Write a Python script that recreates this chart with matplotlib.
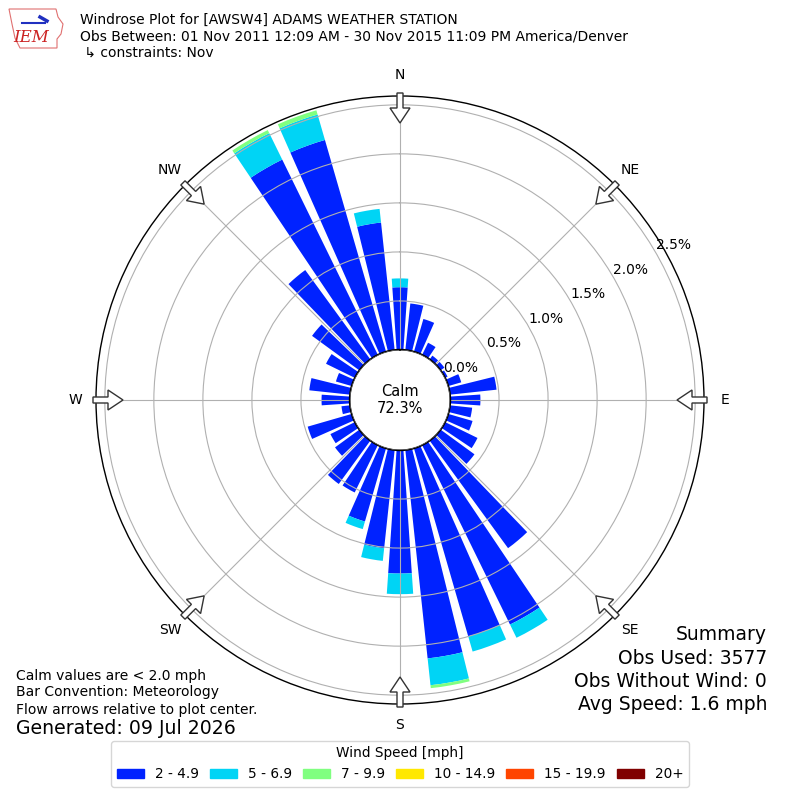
import numpy as np
import matplotlib
matplotlib.use("Agg")
import matplotlib.pyplot as plt
from matplotlib.patches import Circle, FancyArrow, Polygon, Patch

# direction of each bar (degrees, meteorological convention)
directions = np.arange(0, 360, 10)

# frequency (%) of each speed bin per direction
bin_2_5 = [0.64, 0.48, 0.35, 0.14, 0.05, 0.05, 0.03, 0.14, 0.48, 0.31,
           0.23, 0.26, 0.37, 0.43, 1.36, 2.04, 2.00, 2.14, 1.26, 1.01,
           0.78, 0.54, 0.55, 0.31, 0.28, 0.47, 0.09, 0.29, 0.42, 0.17,
           0.33, 0.60, 1.13, 2.22, 2.25, 1.31]
bin_5_7 = [0.09, 0, 0, 0, 0, 0, 0, 0, 0, 0,
           0, 0, 0, 0, 0, 0.15, 0.16, 0.275, 0.21, 0.13,
           0.08, 0, 0, 0, 0, 0, 0, 0, 0, 0,
           0, 0, 0, 0.30, 0.27, 0.14]
bin_7_10 = [0] * 17 + [0.03] + [0] * 15 + [0.035, 0.045, 0]
bin_10_15 = [0] * 36
bin_15_20 = [0] * 36
bin_20p = [0] * 36

bins = [bin_2_5, bin_5_7, bin_7_10, bin_10_15, bin_15_20, bin_20p]
bin_labels = ["2 - 4.9", "5 - 6.9", "7 - 9.9", "10 - 14.9", "15 - 19.9", "20+"]
bin_colors = ["#0022ff", "#00d4f5", "#80ff80", "#ffe800", "#ff4500", "#800000"]

rticks = [0.0, 0.5, 1.0, 1.5, 2.0, 2.5]
compass = ["N", "NE", "E", "SE", "S", "SW", "W", "NW"]
calm_pct = 72.3

fig = plt.figure(figsize=(8, 8), dpi=100)
ax = fig.add_axes([0.12, 0.12, 0.76, 0.76], projection="polar")
ax.set_theta_zero_location("N")
ax.set_theta_direction(-1)
ax.set_rorigin(-0.51)
ax.set_ylim(0, 2.59)

theta = np.deg2rad(directions)
bottom = np.zeros(len(directions))
for vals, color in zip(bins, bin_colors):
    vals = np.array(vals, dtype=float)
    ax.bar(theta, vals, width=np.deg2rad(7.8), bottom=bottom, color=color,
           linewidth=0, align="center")
    bottom += vals

ax.set_xticks(np.deg2rad(np.arange(0, 360, 45)))
ax.set_xticklabels([])
ax.set_yticks(rticks)
ax.set_yticklabels([])
ax.grid(True, color="#b0b0b0", lw=0.8)
ax.spines["polar"].set_linewidth(1.0)

for t in rticks:
    ax.text(np.deg2rad(60), t, f"{t:.1f}%", ha="left", va="bottom",
            fontsize=10, zorder=6)

for i, lab in enumerate(compass):
    ax.text(np.deg2rad(i * 45), 2.805, lab, ha="center", va="center",
            fontsize=10)

# flow arrows at the rim, pointing to the centre
for i in range(8):
    a = np.deg2rad(i * 45)
    r0, r1 = 307 / 608, 277 / 608
    x0, y0 = 0.5 + r0 * np.sin(a), 0.5 + r0 * np.cos(a)
    dx, dy = (r1 - r0) * np.sin(a), (r1 - r0) * np.cos(a)
    ax.add_patch(FancyArrow(x0, y0, dx, dy, width=6 / 608,
                            head_width=20 / 608, head_length=15 / 608,
                            length_includes_head=True, transform=ax.transAxes,
                            fc="white", ec="#333333", lw=1, clip_on=False,
                            zorder=7))

ax.add_patch(Circle((0.5, 0.5), 50.5 / 608, transform=ax.transAxes,
                    fc="white", ec="black", lw=1, zorder=5))
ax.text(0.5, 0.5, f"Calm\n{calm_pct}%", transform=ax.transAxes,
        ha="center", va="center", fontsize=10.5, zorder=6, linespacing=1.15)

# header
fig.text(80 / 800, 1 - 20 / 800, "Windrose Plot for [AWSW4] ADAMS WEATHER STATION",
         fontsize=10, va="center")
fig.text(80 / 800, 1 - 37 / 800,
         "Obs Between: 01 Nov 2011 12:09 AM - 30 Nov 2015 11:09 PM America/Denver",
         fontsize=10, va="center")
fig.text(80 / 800, 1 - 53 / 800, " \u21b3 constraints: Nov", fontsize=10, va="center")

# simple IEM logo
iowa = [(9, 9), (56, 9), (58, 17), (63, 24), (61, 34), (57, 39), (57, 48),
        (20, 48), (15, 38), (12, 24)]
fig.patches.append(Polygon([(x / 800, 1 - y / 800) for x, y in iowa], closed=True,
                           fc="none", ec="#e07070", lw=0.8,
                           transform=fig.transFigure))
fig.lines.append(plt.Line2D([22 / 800, 45 / 800], [1 - 23 / 800, 1 - 23 / 800],
                            color="#2030c0", lw=1.5, transform=fig.transFigure))
fig.lines.append(plt.Line2D([40 / 800, 47 / 800], [1 - 17 / 800, 1 - 21 / 800],
                            color="#2030c0", lw=2.5, transform=fig.transFigure))
fig.text(31 / 800, 1 - 38 / 800, "IEM", color="#cc2222", fontsize=12,
         family="DejaVu Serif", style="italic", ha="center", va="center")

# footer notes
fig.text(16 / 800, 1 - 676 / 800, "Calm values are < 2.0 mph", fontsize=10, va="center")
fig.text(16 / 800, 1 - 692 / 800, "Bar Convention: Meteorology", fontsize=10, va="center")
fig.text(16 / 800, 1 - 710 / 800, "Flow arrows relative to plot center.", fontsize=10,
         va="center")
fig.text(16 / 800, 1 - 729 / 800, "Generated: 09 Jul 2026", fontsize=13.6, va="center")

summary = ["Summary", "Obs Used: 3577", "Obs Without Wind: 0", "Avg Speed: 1.6 mph"]
for i, s in enumerate(summary):
    fig.text(767 / 800, 1 - (635 + i * 23.3) / 800, s, fontsize=13.5, ha="right",
             va="center")

handles = [Patch(color=c, label=l) for c, l in zip(bin_colors, bin_labels)]
fig.legend(handles=handles, loc="upper center", bbox_to_anchor=(0.5, 1 - 741 / 800),
           ncol=6, fontsize=9.8, title="Wind Speed [mph]", title_fontsize=9.8,
           columnspacing=0.8, handletextpad=0.8, borderaxespad=0)

fig.savefig("out.png", dpi=100)
